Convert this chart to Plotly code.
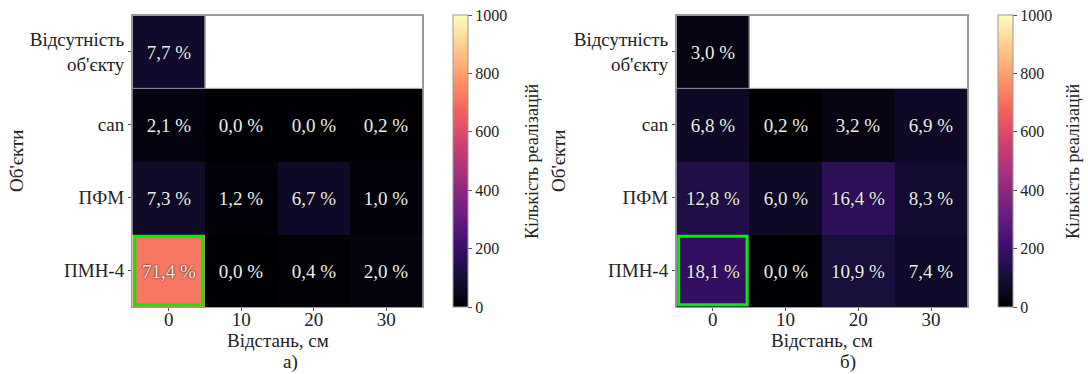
import plotly.graph_objects as go

W, H = 1088, 374

objects = ["Відсутність<br>об'єкту", "can", "ПФМ", "ПМН-4"]
distances = ["0", "10", "20", "30"]

pct_a = [
    [7.7, None, None, None],
    [2.1, 0.0, 0.0, 0.2],
    [7.3, 1.2, 6.7, 1.0],
    [71.4, 0.0, 0.4, 2.0],
]
pct_b = [
    [3.0, None, None, None],
    [6.8, 0.2, 3.2, 6.9],
    [12.8, 6.0, 16.4, 8.3],
    [18.1, 0.0, 10.9, 7.4],
]
total_runs = 1000
highlight = ("ПМН-4", "0")

FONT = "Liberation Serif"
TXT = "#222222"


def px_x(p):
    return p / W


def px_y(p):
    return 1 - p / H


def counts(pct):
    return [[None if v is None else v * total_runs / 100 for v in row] for row in pct]


def labels(pct):
    return [["" if v is None else f"{v:.1f} %".replace(".", ",") for v in row] for row in pct]


panels = [
    dict(pct=pct_a, x0=132, x1=423, cb=453, cbt=532, ylab=17, sub="а)", subx=290),
    dict(pct=pct_b, x0=676, x1=968, cb=998, cbt=1073, ylab=559, sub="б)", subx=848),
]
top, bottom = 15, 307

fig = go.Figure()
annotations = []
shapes = []
for i, p in enumerate(panels):
    n = "" if i == 0 else str(i + 1)
    fig.add_trace(go.Heatmap(
        z=counts(p["pct"]), x=distances, y=objects,
        text=labels(p["pct"]), texttemplate="%{text}",
        textfont=dict(family=FONT, size=19, color="#ececec",
                      shadow="0px 0px 2px #000000"),
        colorscale="Magma", zmin=0, zmax=1000,
        xaxis="x" + n, yaxis="y" + n, hoverinfo="skip",
        colorbar=dict(
            x=px_x(p["cb"]), xanchor="left", xref="paper", xpad=0, ypad=0,
            y=px_y(bottom), yanchor="bottom", len=(bottom - top) / H, lenmode="fraction",
            thickness=15, thicknessmode="pixels",
            outlinecolor="#999999", outlinewidth=1,
            tickvals=[0, 200, 400, 600, 800, 1000], ticks="outside", ticklen=4,
            tickcolor="#555555",
            tickfont=dict(family=FONT, size=16, color=TXT),
        ),
    ))
    axis_common = dict(showline=True, mirror=True, linecolor="#999999", linewidth=1,
                       ticks="outside", ticklen=3, tickcolor="#555555",
                       tickfont=dict(family=FONT, size=19, color=TXT),
                       showgrid=False, zeroline=False)
    fig.update_layout(**{
        "xaxis" + n: dict(domain=[px_x(p["x0"]), px_x(p["x1"])], anchor="y" + n,
                          type="category", ticklabelstandoff=-8, **axis_common),
        "yaxis" + n: dict(domain=[px_y(bottom), px_y(top)], anchor="x" + n,
                          type="category", autorange="reversed", **axis_common),
    })
    xr, yr = "x" + n, "y" + n
    hx = distances.index(highlight[1])
    hy = objects.index(highlight[0])
    shapes.append(dict(type="rect", xref=xr, yref=yr, x0=hx - 0.5 + 0.03, x1=hx + 0.5 - 0.03,
                       y0=hy - 0.5 + 0.03, y1=hy + 0.5 - 0.03,
                       line=dict(color="#00ee00", width=3)))
    shapes.append(dict(type="rect", xref=xr, yref=yr, x0=-0.5, x1=0.5, y0=-0.5, y1=0.5,
                       line=dict(color="#999999", width=1)))
    shapes.append(dict(type="rect", xref=xr, yref=yr, x0=0.5, x1=3.5, y0=-0.5, y1=0.5,
                       line=dict(color="#999999", width=1)))
    cx = (p["x0"] + p["x1"]) / 2
    annotations += [
        dict(text="Відстань, см", x=px_x(cx), y=px_y(340), xref="paper", yref="paper",
             showarrow=False, font=dict(family=FONT, size=19, color=TXT),
             xanchor="center", yanchor="middle"),
        dict(text="Об'єкти", x=px_x(p["ylab"]), y=px_y((top + bottom) / 2),
             xref="paper", yref="paper", textangle=-90, showarrow=False,
             font=dict(family=FONT, size=19, color=TXT), xanchor="center", yanchor="middle"),
        dict(text="Кількість реалізацій", x=px_x(p["cbt"]), y=px_y((top + bottom) / 2),
             xref="paper", yref="paper", textangle=-90, showarrow=False,
             font=dict(family=FONT, size=18, color=TXT), xanchor="center", yanchor="middle"),
        dict(text=p["sub"], x=px_x(p["subx"]), y=px_y(362), xref="paper", yref="paper",
             showarrow=False, font=dict(family=FONT, size=19, color=TXT),
             xanchor="center", yanchor="middle"),
    ]

fig.update_layout(
    width=W, height=H, margin=dict(l=0, r=0, t=0, b=0),
    paper_bgcolor="white", plot_bgcolor="white",
    annotations=annotations, shapes=shapes,
    font=dict(family=FONT, color=TXT),
)

fig.write_html("out.html")
